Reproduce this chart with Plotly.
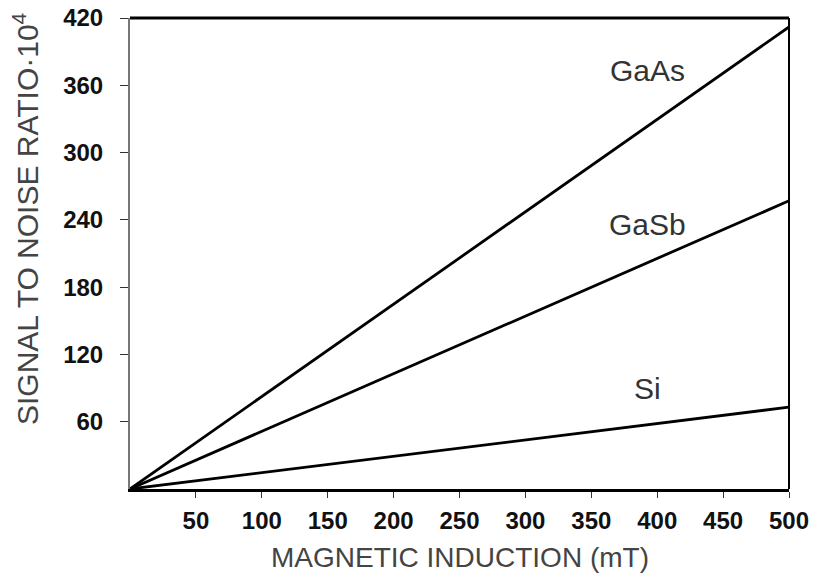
import plotly.graph_objects as go

# Data
induction = [0, 500]
gaas = [0, 412]
gasb = [0, 257]
si = [0, 73]
labels = ["GaAs", "GaSb", "Si"]
label_x = [393, 393, 393]
label_y = [373, 236, 90]
xticks = [50, 100, 150, 200, 250, 300, 350, 400, 450, 500]
yticks = [60, 120, 180, 240, 300, 360, 420]

FONT = "Liberation Sans, Arial"

fig = go.Figure()
for ys in (gaas, gasb, si):
    fig.add_trace(go.Scatter(x=induction, y=ys, mode="lines",
                             line=dict(color="black", width=2.8), showlegend=False))

for t, lx, ly in zip(labels, label_x, label_y):
    fig.add_annotation(x=lx, y=ly, text=t, showarrow=False,
                       font=dict(family=FONT, size=30, color="#333"))

fig.add_annotation(xref="paper", yref="paper", x=-0.158, y=0.575, xanchor="center", yanchor="middle",
                   text="SIGNAL TO NOISE RATIO\u00b710<sup>4</sup>", textangle=-90, showarrow=False,
                   font=dict(family=FONT, size=30, color="#444"))
fig.add_annotation(xref="paper", yref="paper", x=0.5, y=-0.145, xanchor="center", yanchor="middle",
                   text="MAGNETIC INDUCTION (mT)", showarrow=False,
                   font=dict(family=FONT, size=28, color="#444"))

# top and right borders
fig.add_shape(type="line", xref="paper", yref="paper", x0=0, x1=1, y0=1, y1=1,
              line=dict(color="black", width=3))
fig.add_shape(type="line", xref="paper", yref="paper", x0=1, x1=1, y0=0, y1=1,
              line=dict(color="black", width=2))

fig.update_layout(
    width=814, height=575,
    margin=dict(l=130, r=25, t=18, b=86, autoexpand=False),
    plot_bgcolor="white", paper_bgcolor="white",
    xaxis=dict(range=[0, 500], tickvals=xticks, ticks="outside", ticklen=6,
               tickcolor="#333", showline=True, linecolor="black", linewidth=3,
               showgrid=False, zeroline=False, ticklabelstandoff=2, automargin=False,
               tickfont=dict(family=FONT, size=24, color="#111", weight="bold")),
    yaxis=dict(range=[0, 420], tickvals=yticks, ticks="outside", ticklen=8,
               tickcolor="#333", showline=True, linecolor="#777", linewidth=2,
               showgrid=False, zeroline=False, ticklabelstandoff=12, automargin=False,
               tickfont=dict(family=FONT, size=24, color="#111", weight="bold")),
)

fig.write_html("out.html")
